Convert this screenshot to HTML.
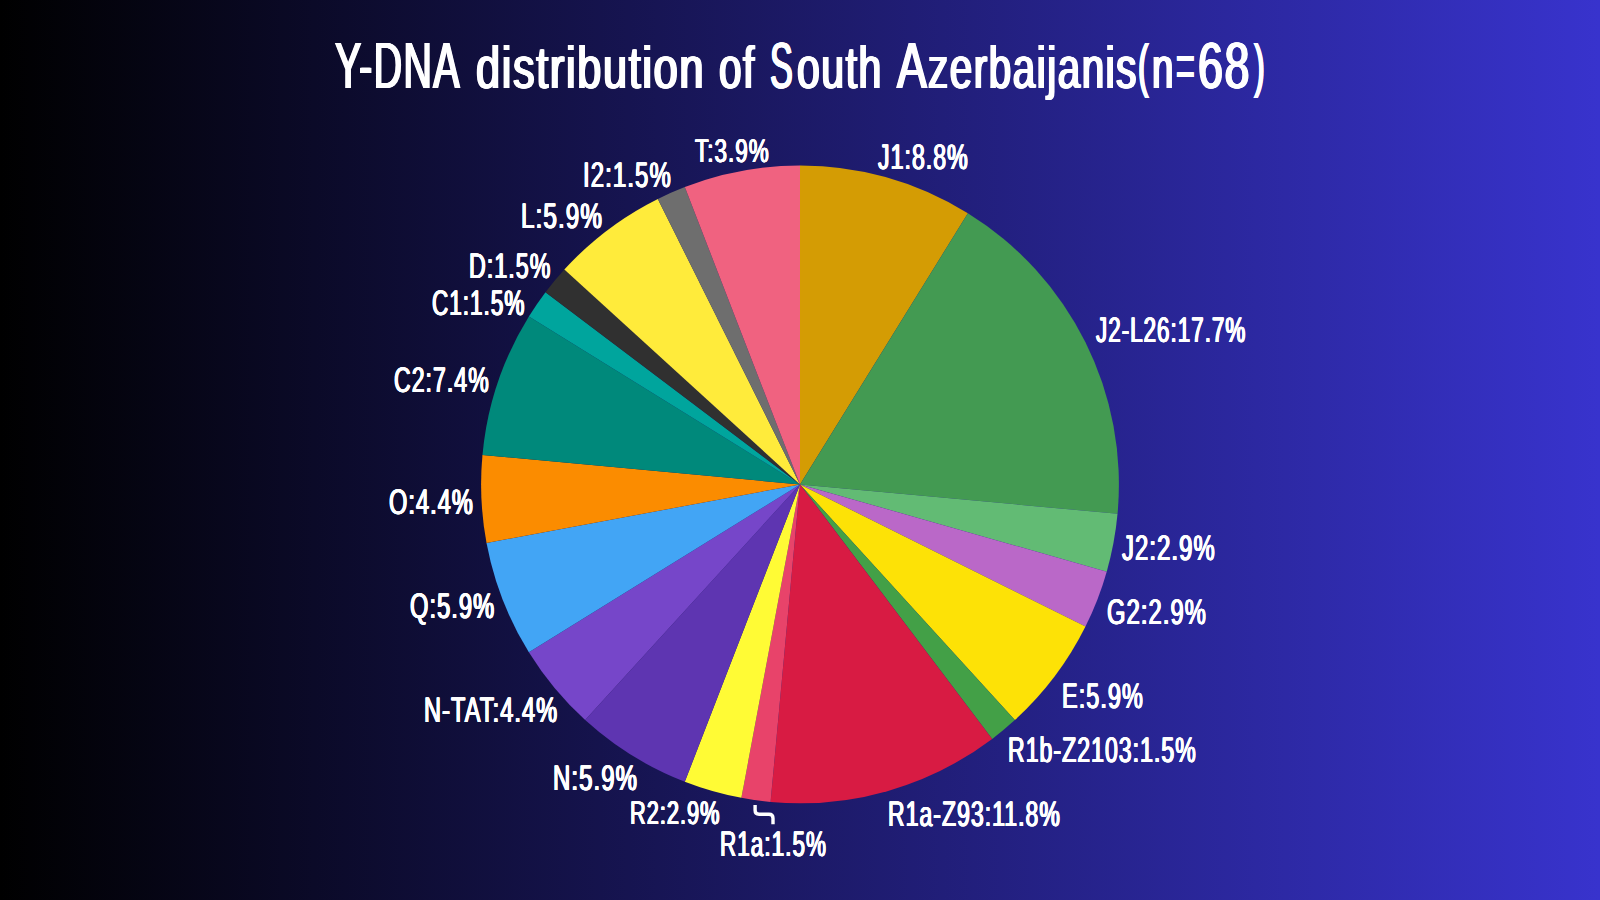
<!DOCTYPE html>
<html lang="en">
<head>
<meta charset="utf-8">
<title>Y-DNA distribution of South Azerbaijanis(n=68)</title>
<style>
html,body{margin:0;padding:0}
body{width:1600px;height:900px;overflow:hidden;position:relative;background:linear-gradient(90deg,#000000 0%,#3833CD 100%);font-family:"Liberation Sans",sans-serif;color:#fff}
svg{position:absolute;left:0;top:0}
.lb{position:absolute;white-space:pre;transform-origin:0 0;color:#fff;letter-spacing:0.045em;font-size:35.5px;line-height:35.5px;text-shadow:0.85px 0 0 #fff,-0.85px 0 0 #fff,0.425px 0 0 #fff,-0.425px 0 0 #fff}
.sm{font-size:32.8px;line-height:32.8px}
h1{position:absolute;left:0;top:34.40px;margin:0;width:1600px;white-space:pre;font-weight:normal;letter-spacing:0.035em;font-size:64.6px;line-height:64.6px;text-shadow:1.5px 0 0 #fff,-1.5px 0 0 #fff,0.75px 0 0 #fff,-0.75px 0 0 #fff}
h1 span{display:inline-block;width:0;transform-origin:0 0}
</style>
</head>
<body>
<svg width="1600" height="900" viewBox="0 0 1600 900">
<g>
<path d="M800.0,484.4L800.00,165.50A318.9,318.9 0 0 1 967.88,213.27Z" fill="#D49C04"/>
<path d="M800.0,484.4L967.88,213.27A318.9,318.9 0 0 1 1117.54,513.82Z" fill="#439A52"/>
<path d="M800.0,484.4L1117.54,513.82A318.9,318.9 0 0 1 1106.73,571.67Z" fill="#62BB74"/>
<path d="M800.0,484.4L1106.73,571.67A318.9,318.9 0 0 1 1085.47,626.55Z" fill="#BA68C8"/>
<path d="M800.0,484.4L1085.47,626.55A318.9,318.9 0 0 1 1014.84,720.07Z" fill="#FDE206"/>
<path d="M800.0,484.4L1014.84,720.07A318.9,318.9 0 0 1 992.18,738.89Z" fill="#43A047"/>
<path d="M800.0,484.4L992.18,738.89A318.9,318.9 0 0 1 770.58,801.94Z" fill="#D81B43"/>
<path d="M800.0,484.4L770.58,801.94A318.9,318.9 0 0 1 741.40,797.87Z" fill="#E8436A"/>
<path d="M800.0,484.4L741.40,797.87A318.9,318.9 0 0 1 684.80,781.77Z" fill="#FFFB35"/>
<path d="M800.0,484.4L684.80,781.77A318.9,318.9 0 0 1 585.16,720.07Z" fill="#5E35B1"/>
<path d="M800.0,484.4L585.16,720.07A318.9,318.9 0 0 1 528.87,652.28Z" fill="#7646C9"/>
<path d="M800.0,484.4L528.87,652.28A318.9,318.9 0 0 1 486.53,543.00Z" fill="#42A5F5"/>
<path d="M800.0,484.4L486.53,543.00A318.9,318.9 0 0 1 482.46,454.98Z" fill="#FB8C00"/>
<path d="M800.0,484.4L482.46,454.98A318.9,318.9 0 0 1 528.87,316.52Z" fill="#00897B"/>
<path d="M800.0,484.4L528.87,316.52A318.9,318.9 0 0 1 545.51,292.22Z" fill="#00A59D"/>
<path d="M800.0,484.4L545.51,292.22A318.9,318.9 0 0 1 564.33,269.56Z" fill="#303030"/>
<path d="M800.0,484.4L564.33,269.56A318.9,318.9 0 0 1 657.85,198.93Z" fill="#FFEB3B"/>
<path d="M800.0,484.4L657.85,198.93A318.9,318.9 0 0 1 684.80,187.03Z" fill="#6E6E6E"/>
<path d="M800.0,484.4L684.80,187.03A318.9,318.9 0 0 1 800.00,165.50Z" fill="#F06280"/>
</g>
<path d="M755.1,805V810.2Q755.1,814.2 759.1,814.2H769Q773,814.2 773,818.2V824.2" fill="none" stroke="#fff" stroke-width="3.4"/>
</svg>
<h1><span style="margin-left:335.30px;transform:scaleX(0.6104)">Y-DNA </span><span style="font-size:60.1px;margin-left:141.13px;transform:scaleX(0.7211)">distribution </span><span style="font-size:60.1px;margin-left:242.32px;transform:scaleX(0.6725)">of </span><span style="margin-left:50.98px;transform:scaleX(0.5295)">S</span><span style="font-size:60.1px;margin-left:26.92px;transform:scaleX(0.6819)">outh </span><span style="margin-left:100.40px;transform:scaleX(0.6918)">A</span><span style="font-size:60.1px;margin-left:31.01px;transform:scaleX(0.6723)">zerbaijanis</span><span style="font-size:60.1px;vertical-align:2px;margin-left:210.00px;transform:scaleX(0.5353)">(</span><span style="font-size:60.1px;margin-left:14.26px;transform:scaleX(0.6403)">n</span><span style="margin-left:23.84px;transform:scaleX(0.4958)">=</span><span style="margin-left:22.20px;transform:scaleX(0.6940)">68</span><span style="font-size:60.1px;vertical-align:2px;margin-left:56.21px;transform:scaleX(0.5353)">)</span></h1>
<div class="lb sm" style="left:695.29px;top:135.00px;transform:scaleX(0.6850) skewX(.06deg)">T:3.9%</div>
<div class="lb" style="left:878.29px;top:140.00px;transform:scaleX(0.6503) skewX(.06deg)">J1:8.8%</div>
<div class="lb" style="left:582.70px;top:158.00px;transform:scaleX(0.6751) skewX(.06deg)">I2:1.5%</div>
<div class="lb" style="left:521.49px;top:199.00px;transform:scaleX(0.6823) skewX(.06deg)">L:5.9%</div>
<div class="lb" style="left:469.34px;top:249.00px;transform:scaleX(0.6543) skewX(.06deg)">D:1.5%</div>
<div class="lb" style="left:432.28px;top:286.00px;transform:scaleX(0.6336) skewX(.06deg)">C1:1.5%</div>
<div class="lb" style="left:393.57px;top:363.00px;transform:scaleX(0.6495) skewX(.06deg)">C2:7.4%</div>
<div class="lb" style="left:389.26px;top:485.00px;transform:scaleX(0.6629) skewX(.06deg)">O:4.4%</div>
<div class="lb" style="left:410.21px;top:589.00px;transform:scaleX(0.6657) skewX(.06deg)">Q:5.9%</div>
<div class="lb" style="left:423.52px;top:693.00px;transform:scaleX(0.6641) skewX(.06deg)">N-TAT:4.4%</div>
<div class="lb" style="left:552.80px;top:761.00px;transform:scaleX(0.6747) skewX(.06deg)">N:5.9%</div>
<div class="lb sm" style="left:630.07px;top:797.00px;transform:scaleX(0.6643) skewX(.06deg)">R2:2.9%</div>
<div class="lb" style="left:719.78px;top:827.00px;transform:scaleX(0.6341) skewX(.06deg)">R1a:1.5%</div>
<div class="lb" style="left:888.25px;top:797.00px;transform:scaleX(0.6478) skewX(.06deg)">R1a-Z93:11.8%</div>
<div class="lb" style="left:1007.95px;top:733.00px;transform:scaleX(0.6491) skewX(.06deg)">R1b-Z2103:1.5%</div>
<div class="lb" style="left:1061.53px;top:679.00px;transform:scaleX(0.6599) skewX(.06deg)">E:5.9%</div>
<div class="lb" style="left:1107.36px;top:595.00px;transform:scaleX(0.6694) skewX(.06deg)">G2:2.9%</div>
<div class="lb" style="left:1121.80px;top:531.00px;transform:scaleX(0.6720) skewX(.06deg)">J2:2.9%</div>
<div class="lb" style="left:1096.39px;top:313.00px;transform:scaleX(0.6307) skewX(.06deg)">J2-L26:17.7%</div>
</body>
</html>
